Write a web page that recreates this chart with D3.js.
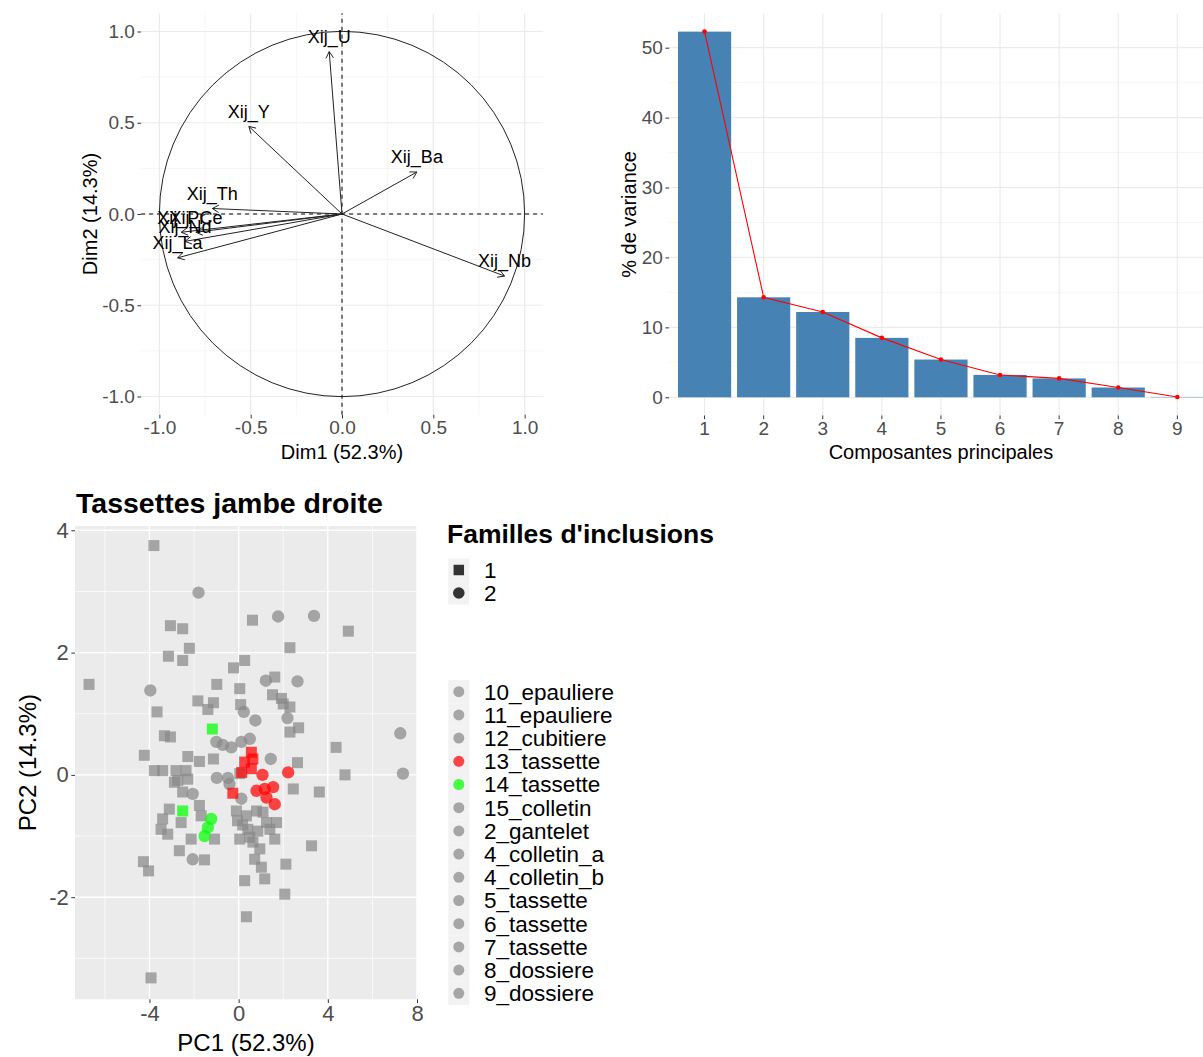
<!DOCTYPE html>
<html><head><meta charset="utf-8">
<script src="https://cdn.jsdelivr.net/npm/d3@7"></script>
<style>
body{margin:0;background:#fff}
text{font-family:"Liberation Sans",Arial,Helvetica,sans-serif}
</style>
</head><body>
<svg id="c" width="1203" height="1057"></svg>
<script>
// ---------- DATA ----------
// Correlation circle (variables)
const varNames = ["Xij_U","Xij_Y","Xij_Ba","Xij_Th","Xij_Ce","Xij_Pr","Xij_Nd","Xij_La","Xij_Nb"];
const varDim1  = [-0.07,-0.51,0.41,-0.71,-0.80,-0.88,-0.86,-0.90,0.89];
const varDim2  = [0.89,0.48,0.23,0.03,-0.10,-0.10,-0.15,-0.24,-0.34];
const circleTicks = [-1,-0.5,0,0.5,1];

// Scree plot
const components = ["1","2","3","4","5","6","7","8","9"];
const variancePct = [52.3,14.3,12.2,8.5,5.4,3.2,2.7,1.4,0.05];
const screeTicks = [0,10,20,30,40,50];

// Individuals (PC1, PC2)
const othersFam1 = [[-3.80,3.75],[0.62,2.53],[4.92,2.35],[-3.06,2.44],[-2.51,2.39],[-2.21,2.07],[-3.15,1.94],[-2.51,1.87],[2.30,2.08],[0.27,1.87],[-0.23,1.75],[-6.71,1.48],[-0.98,1.48],[0.05,1.41],[1.62,1.60],[-1.83,1.21],[-1.13,1.18],[-1.38,1.07],[0.09,1.15],[1.52,1.31],[1.92,1.25],[2.00,1.16],[2.30,1.11],[2.69,0.77],[2.30,0.70],[-3.66,1.03],[-3.33,0.64],[-3.06,0.62],[-4.23,0.32],[-2.28,0.30],[-1.76,0.22],[-1.13,0.26],[2.64,0.20],[4.37,0.45],[4.77,0.00],[-3.78,0.07],[-3.41,0.07],[-2.81,0.07],[-2.36,0.07],[-2.28,-0.07],[-2.73,-0.09],[-2.88,-0.12],[0.05,0.02],[2.45,-0.23],[3.62,-0.28],[-2.51,-0.28],[-3.11,-0.56],[-3.41,-0.72],[-3.48,-0.89],[-3.18,-0.97],[-2.58,-0.78],[-2.13,-1.05],[-1.76,-0.50],[-1.68,-0.67],[-1.08,-1.05],[-2.66,-1.24],[-1.53,-1.39],[-4.27,-1.42],[-4.04,-1.57],[-3.93,-3.32],[-0.10,-0.59],[0.35,-0.67],[0.80,-0.59],[1.09,-0.61],[1.25,-0.78],[1.70,-0.78],[0.05,-1.05],[0.50,-1.02],[0.64,-1.10],[0.95,-1.21],[0.72,-1.38],[1.02,-1.51],[1.17,-1.70],[0.27,-1.73],[1.62,-1.05],[2.12,-1.46],[3.27,-1.16],[2.07,-1.95],[0.35,-2.32],[0.18,-0.82],[0.41,-0.89],[0.86,-0.92],[1.40,-0.89],[-0.05,-0.75]];
const othersFam2 = [[-1.80,2.98],[1.77,2.59],[3.38,2.60],[-3.96,1.38],[1.22,1.54],[2.64,1.53],[0.23,1.03],[0.75,0.89],[2.19,0.93],[0.50,0.59],[-1.00,0.54],[-0.71,0.49],[-0.33,0.45],[0.12,0.54],[1.44,0.26],[7.25,0.68],[7.37,0.02],[-0.98,-0.05],[-0.48,-0.05],[-0.41,-0.15],[-2.06,-0.31],[0.12,-0.39],[-2.06,-1.38]];
const tassette13Fam1 = [[0.57,0.37],[0.64,0.26],[0.27,0.21],[0.57,0.10],[0.14,0.04],[-0.26,-0.30]];
const tassette13Fam2 = [[1.07,0.00],[2.22,0.04],[0.80,-0.26],[1.17,-0.23],[1.55,-0.20],[1.25,-0.37],[1.62,-0.48]];
const tassette14Fam1 = [[-1.18,0.75],[-2.51,-0.59]];
const tassette14Fam2 = [[-1.23,-0.72],[-1.38,-0.86],[-1.53,-1.00]];

const families = ["1","2"];
const pieces = ["10_epauliere","11_epauliere","12_cubitiere","13_tassette","14_tassette","15_colletin","2_gantelet","4_colletin_a","4_colletin_b","5_tassette","6_tassette","7_tassette","8_dossiere","9_dossiere"];
const pcTicksX = [-4,0,4,8];
const pcTicksY = [-2,0,2,4];

// ---------- DRAW ----------
const svg = d3.select("#c");
svg.append("rect").attr("width",1203).attr("height",1057).attr("fill","#fff");
const FONT = '"Liberation Sans",Arial,sans-serif';

function styleAxis(g, size, color){
  g.select(".domain").remove();
  g.selectAll(".tick line").attr("stroke","#333").attr("stroke-width",1);
  g.selectAll(".tick text").attr("fill",color).attr("font-size",size).attr("font-family",FONT);
}

// ===== Panel 1: correlation circle =====
const cx = d3.scaleLinear().domain([-1.1,1.1]).range([141.1,542.9]);
const cy = d3.scaleLinear().domain([-1.1,1.1]).range([414.75,13.25]);
const p1 = svg.append("g");
const minor1 = [-0.75,-0.25,0.25,0.75];
p1.selectAll(".mv").data(minor1).join("line").attr("x1",d=>cx(d)).attr("x2",d=>cx(d)).attr("y1",cy(-1.1)).attr("y2",cy(1.1)).attr("stroke","#f2f2f2").attr("stroke-width",0.8);
p1.selectAll(".mh").data(minor1).join("line").attr("y1",d=>cy(d)).attr("y2",d=>cy(d)).attr("x1",cx(-1.1)).attr("x2",cx(1.1)).attr("stroke","#f2f2f2").attr("stroke-width",0.8);
p1.selectAll(".Mv").data(circleTicks).join("line").attr("x1",d=>cx(d)).attr("x2",d=>cx(d)).attr("y1",cy(-1.1)).attr("y2",cy(1.1)).attr("stroke","#ebebeb").attr("stroke-width",1.2);
p1.selectAll(".Mh").data(circleTicks).join("line").attr("y1",d=>cy(d)).attr("y2",d=>cy(d)).attr("x1",cx(-1.1)).attr("x2",cx(1.1)).attr("stroke","#ebebeb").attr("stroke-width",1.2);
p1.append("line").attr("x1",cx(-1.1)).attr("x2",cx(1.1)).attr("y1",cy(0)).attr("y2",cy(0)).attr("stroke","#000").attr("stroke-dasharray","4,4");
p1.append("line").attr("x1",cx(0)).attr("x2",cx(0)).attr("y1",cy(-1.1)).attr("y2",cy(1.1)).attr("stroke","#000").attr("stroke-dasharray","4,4");
p1.append("circle").attr("cx",cx(0)).attr("cy",cy(0)).attr("r",cx(1)-cx(0)).attr("fill","none").attr("stroke","#222").attr("stroke-width",1);
varNames.forEach((n,i)=>{
  const x0=cx(0), y0=cy(0), x1=cx(varDim1[i]), y1=cy(varDim2[i]);
  p1.append("line").attr("x1",x0).attr("y1",y0).attr("x2",x1).attr("y2",y1).attr("stroke","#222").attr("stroke-width",1);
  const a=Math.atan2(y1-y0,x1-x0), L=7.5, h=Math.PI/6;
  p1.append("path").attr("d",`M${x1-L*Math.cos(a-h)},${y1-L*Math.sin(a-h)}L${x1},${y1}L${x1-L*Math.cos(a+h)},${y1-L*Math.sin(a+h)}`)
    .attr("fill","none").attr("stroke","#222").attr("stroke-width",1);
});
varNames.forEach((n,i)=>{
  p1.append("text").attr("x",cx(varDim1[i])).attr("y",cy(varDim2[i])-15).attr("dy","0.35em")
    .attr("text-anchor","middle").attr("font-size",18).attr("fill","#000").text(n);
});
const ax1 = p1.append("g").attr("transform",`translate(0,${cy(-1.1)})`)
  .call(d3.axisBottom(cx).tickValues(circleTicks).tickFormat(d=>d.toFixed(1)).tickSize(3.7).tickPadding(2.5));
styleAxis(ax1,19,"#4d4d4d");
const ay1 = p1.append("g").attr("transform",`translate(${cx(-1.1)},0)`)
  .call(d3.axisLeft(cy).tickValues(circleTicks).tickFormat(d=>d.toFixed(1)).tickSize(3.7).tickPadding(2.5));
styleAxis(ay1,19,"#4d4d4d");
p1.append("text").attr("x",(cx(-1.1)+cx(1.1))/2).attr("y",451.7).attr("dy","0.35em").attr("text-anchor","middle").attr("font-size",20).text("Dim1 (52.3%)");
p1.append("text").attr("transform",`translate(90,${(cy(-1.1)+cy(1.1))/2}) rotate(-90)`).attr("dy","0.35em").attr("text-anchor","middle").attr("font-size",20).text("Dim2 (14.3%)");

// ===== Panel 2: scree plot =====
const sx = d3.scaleBand().domain(components).range([669.1,1212.8]).paddingInner(0.1).paddingOuter(0.15);
const sy = d3.scaleLinear().domain([0,50]).range([397.3,47.7]);
const yTop = sy(54.9), yBot = sy(-2.6);
const p2 = svg.append("g");
const screeMinor = [5,15,25,35,45];
p2.selectAll(".mh").data(screeMinor).join("line").attr("x1",669.1).attr("x2",1212.8).attr("y1",d=>sy(d)).attr("y2",d=>sy(d)).attr("stroke","#f2f2f2").attr("stroke-width",0.8);
p2.selectAll(".Mh").data(screeTicks).join("line").attr("x1",669.1).attr("x2",1212.8).attr("y1",d=>sy(d)).attr("y2",d=>sy(d)).attr("stroke","#ebebeb").attr("stroke-width",1.2);
p2.selectAll(".Mv").data(components).join("line").attr("x1",d=>sx(d)+sx.bandwidth()/2).attr("x2",d=>sx(d)+sx.bandwidth()/2).attr("y1",yTop).attr("y2",yBot).attr("stroke","#ebebeb").attr("stroke-width",1.2);
p2.selectAll(".bar").data(components).join("rect")
  .attr("x",d=>sx(d)).attr("width",sx.bandwidth())
  .attr("y",(d,i)=>sy(variancePct[i])).attr("height",(d,i)=>sy(0)-sy(variancePct[i]))
  .attr("fill","#4682B4");
const line = d3.line().x((d,i)=>sx(components[i])+sx.bandwidth()/2).y(d=>sy(d));
p2.append("path").attr("d",line(variancePct)).attr("fill","none").attr("stroke","#ff0000").attr("stroke-width",1.1);
p2.selectAll(".pt").data(variancePct).join("circle").attr("cx",(d,i)=>sx(components[i])+sx.bandwidth()/2).attr("cy",d=>sy(d)).attr("r",2.3).attr("fill","#ff0000");
const ax2 = p2.append("g").attr("transform",`translate(0,${yBot})`).call(d3.axisBottom(sx).tickSize(3.7).tickPadding(2.5));
styleAxis(ax2,19,"#4d4d4d");
const ay2 = p2.append("g").attr("transform",`translate(669.1,0)`).call(d3.axisLeft(sy).tickValues(screeTicks).tickSize(3.7).tickPadding(2.5));
styleAxis(ay2,19,"#4d4d4d");
p2.append("text").attr("x",(669.1+1212.8)/2).attr("y",451.7).attr("dy","0.35em").attr("text-anchor","middle").attr("font-size",20).text("Composantes principales");
p2.append("text").attr("transform",`translate(628.8,${(yTop+yBot)/2}) rotate(-90)`).attr("dy","0.35em").attr("text-anchor","middle").attr("font-size",20).text("% de variance");

// ===== Panel 3: individuals =====
const px = d3.scaleLinear().domain([-7.34,8.0]).range([75,417]);
const py = d3.scaleLinear().domain([-3.67,4.07]).range([999.3,526]);
const p3 = svg.append("g");
p3.append("rect").attr("x",px(-7.34)).attr("y",py(4.07)).attr("width",px(8)-px(-7.34)).attr("height",py(-3.67)-py(4.07)).attr("fill","#ebebeb");
const minX3=[-6,-2,2,6], minY3=[-3,-1,1,3];
p3.selectAll(".mv").data(minX3).join("line").attr("x1",d=>px(d)).attr("x2",d=>px(d)).attr("y1",py(4.07)).attr("y2",py(-3.67)).attr("stroke","#fff").attr("stroke-width",0.7);
p3.selectAll(".mh").data(minY3).join("line").attr("y1",d=>py(d)).attr("y2",d=>py(d)).attr("x1",px(-7.34)).attr("x2",px(8)).attr("stroke","#fff").attr("stroke-width",0.7);
p3.selectAll(".Mv").data(pcTicksX).join("line").attr("x1",d=>px(d)).attr("x2",d=>px(d)).attr("y1",py(4.07)).attr("y2",py(-3.67)).attr("stroke","#fff").attr("stroke-width",1.4);
p3.selectAll(".Mh").data(pcTicksY).join("line").attr("y1",d=>py(d)).attr("y2",d=>py(d)).attr("x1",px(-7.34)).attr("x2",px(8)).attr("stroke","#fff").attr("stroke-width",1.4);

const pieceColor = d3.scaleOrdinal().domain(pieces).range(pieces.map(p=> p==="13_tassette" ? "#ff0000" : p==="14_tassette" ? "#00ff00" : "#888888"));
const famShape = d3.scaleOrdinal().domain(families).range([d3.symbolSquare, d3.symbolCircle]);
const famSize = d3.scaleOrdinal().domain(families).range([121, 120]);
function drawPts(arr, fam, piece){
  p3.append("g").selectAll("path").data(arr).join("path")
    .attr("transform",d=>`translate(${px(d[0])},${py(d[1])})`)
    .attr("d",d3.symbol().type(famShape(fam)).size(famSize(fam)))
    .attr("fill",pieceColor(piece)).attr("fill-opacity",0.72);
}
drawPts(othersFam1,"1","10_epauliere");
drawPts(othersFam2,"2","10_epauliere");
drawPts(tassette14Fam1,"1","14_tassette");
drawPts(tassette14Fam2,"2","14_tassette");
drawPts(tassette13Fam1,"1","13_tassette");
drawPts(tassette13Fam2,"2","13_tassette");

const ax3 = p3.append("g").attr("transform",`translate(0,${py(-3.67)})`).call(d3.axisBottom(px).tickValues(pcTicksX).tickFormat(d=>String(d)).tickSize(3.7).tickPadding(2.5));
styleAxis(ax3,22,"#4d4d4d");
const ay3 = p3.append("g").attr("transform",`translate(${px(-7.34)},0)`).call(d3.axisLeft(py).tickValues(pcTicksY).tickFormat(d=>String(d)).tickSize(3.7).tickPadding(2.5));
styleAxis(ay3,22,"#4d4d4d");
p3.append("text").attr("x",(px(-7.34)+px(8))/2).attr("y",1043).attr("dy","0.35em").attr("text-anchor","middle").attr("font-size",24).text("PC1 (52.3%)");
p3.append("text").attr("transform",`translate(28,${(py(4.07)+py(-3.67))/2}) rotate(-90)`).attr("dy","0.35em").attr("text-anchor","middle").attr("font-size",24).text("PC2 (14.3%)");
p3.append("text").attr("x",76).attr("y",503).attr("dy","0.35em").attr("font-size",28.5).attr("font-weight","bold").text("Tassettes jambe droite");

// Legends
const lg = svg.append("g");
lg.append("text").attr("x",447).attr("y",534).attr("dy","0.35em").attr("font-size",26.5).attr("font-weight","bold").text("Familles d'inclusions");
families.forEach((f,i)=>{
  const yc = 570 + i*23;
  lg.append("rect").attr("x",448.3).attr("y",yc-11.5).attr("width",21).attr("height",23).attr("fill","#f2f2f2");
  lg.append("path").attr("transform",`translate(458.8,${yc})`).attr("d",d3.symbol().type(famShape(f)).size(f==="1"?110:105)).attr("fill","#333");
  lg.append("text").attr("x",484).attr("y",yc).attr("dy","0.35em").attr("font-size",22.5).text(f);
});
pieces.forEach((p,i)=>{
  const yc = 691.7 + i*23.2;
  lg.append("rect").attr("x",448.3).attr("y",yc-11.6).attr("width",21).attr("height",23.2).attr("fill","#f2f2f2");
  lg.append("circle").attr("cx",458.8).attr("cy",yc).attr("r",5.5).attr("fill",pieceColor(p)).attr("fill-opacity",0.72);
  lg.append("text").attr("x",484).attr("y",yc).attr("dy","0.35em").attr("font-size",22.5).text(p);
});
</script>
</body></html>
